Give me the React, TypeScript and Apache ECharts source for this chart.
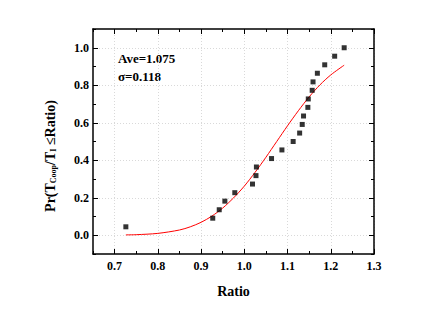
import React, { useEffect, useRef } from "react";
import * as echarts from "echarts";

const ratioX = [0.726, 0.927, 0.942, 0.955, 0.978, 1.019, 1.027, 1.028, 1.063, 1.087, 1.113, 1.128, 1.134, 1.137, 1.147, 1.148, 1.157, 1.159, 1.169, 1.186, 1.209, 1.231];
const probY = [0.045, 0.091, 0.136, 0.182, 0.227, 0.273, 0.318, 0.364, 0.409, 0.455, 0.5, 0.545, 0.591, 0.636, 0.682, 0.727, 0.773, 0.818, 0.864, 0.909, 0.955, 1.0];

const curveX = [0.726, 0.75, 0.8, 0.85, 0.875, 0.9, 0.925, 0.95, 0.975, 1.0, 1.025, 1.05, 1.075, 1.1, 1.125, 1.15, 1.175, 1.2, 1.231];
const curveY = [0.002, 0.003, 0.01, 0.028, 0.045, 0.069, 0.102, 0.145, 0.199, 0.262, 0.336, 0.416, 0.5, 0.584, 0.664, 0.738, 0.802, 0.855, 0.907];

const xMajor = [0.7, 0.8, 0.9, 1.0, 1.1, 1.2, 1.3];
const xMinor = [0.65, 0.75, 0.85, 0.95, 1.05, 1.15, 1.25];
const yMajor = [0.0, 0.2, 0.4, 0.6, 0.8, 1.0];
const yMinor = [-0.1, 0.1, 0.3, 0.5, 0.7, 0.9, 1.1];

const statLines = ["Ave=1.075", "σ=0.118"];

const FONT = "Liberation Serif";

export default function App() {
  const ref = useRef<HTMLDivElement>(null);
  useEffect(() => {
    if (!ref.current) return;
    const chart = echarts.init(ref.current, null, { renderer: "svg" });
    const lbl = { fontFamily: FONT, fontWeight: "bold" as const, fontSize: 12, color: "#000" };
    const mkX = (pos: string, ticks: number[], len: number, main: boolean, labels: boolean) => ({
      type: "value",
      position: pos,
      min: 0.65,
      max: 1.3,
      interval: 0.05,
      name: main && pos === "bottom" ? "Ratio" : "",
      nameLocation: "middle",
      nameGap: 30,
      nameTextStyle: { fontFamily: FONT, fontWeight: "bold", fontSize: 14, color: "#000" },
      axisLine: { show: main, onZero: false, lineStyle: { color: "#000", width: 1.5 } },
      axisTick: { show: true, inside: true, length: len, customValues: ticks, lineStyle: { color: "#000", width: 1 } },
      axisLabel: labels
        ? { show: true, margin: 6, customValues: xMajor, formatter: (v: number) => v.toFixed(1), ...lbl }
        : { show: false },
      splitLine: main && pos === "bottom" ? { show: true, lineStyle: { color: "#d9d9d9", type: [1, 2], width: 1 } } : { show: false },
    });
    const mkY = (pos: string, ticks: number[], len: number, main: boolean, labels: boolean) => ({
      type: "value",
      position: pos,
      min: -0.1,
      max: 1.1,
      interval: 0.1,
      axisLine: { show: main, onZero: false, lineStyle: { color: "#000", width: 1.5 } },
      axisTick: { show: true, inside: true, length: len, customValues: ticks, lineStyle: { color: "#000", width: 1 } },
      axisLabel: labels
        ? { show: true, margin: 4, customValues: yMajor, formatter: (v: number) => v.toFixed(1), ...lbl }
        : { show: false },
      splitLine: main && pos === "left" ? { show: true, lineStyle: { color: "#d9d9d9", type: [1, 2], width: 1 } } : { show: false },
    });
    chart.setOption({
      animation: false,
      textStyle: { fontFamily: FONT },
      grid: { left: 93, top: 29, width: 281, height: 225, containLabel: false },
      xAxis: [
        mkX("bottom", xMajor, 5, true, true),
        mkX("bottom", xMinor, 3, false, false),
        mkX("top", xMajor, 5, true, false),
        mkX("top", xMinor, 3, false, false),
      ],
      yAxis: [
        mkY("left", yMajor, 5, true, true),
        mkY("left", yMinor, 3, false, false),
        mkY("right", yMajor, 5, true, false),
        mkY("right", yMinor, 3, false, false),
      ],
      series: [
        {
          type: "line",
          xAxisIndex: 0,
          yAxisIndex: 0,
          data: curveX.map((x, i) => [x, curveY[i]]),
          smooth: 0.3,
          showSymbol: false,
          symbol: "none",
          lineStyle: { color: "#ff0000", width: 1 },
          z: 3,
        },
        {
          type: "scatter",
          xAxisIndex: 0,
          yAxisIndex: 0,
          data: ratioX.map((x, i) => [x, probY[i]]),
          symbol: "rect",
          symbolSize: 5,
          itemStyle: { color: "#000" },
          z: 4,
        },
      ],
      graphic: [
        {
          type: "text",
          left: 118,
          top: 52,
          style: { text: statLines[0], fontFamily: FONT, fontWeight: "bold", fontSize: 13, fill: "#000" },
        },
        {
          type: "text",
          left: 118,
          top: 70,
          style: { text: statLines[1], fontFamily: FONT, fontWeight: "bold", fontSize: 13, fill: "#000" },
        },
        {
          type: "text",
          x: 50,
          y: 156,
          rotation: Math.PI / 2,
          style: {
            text: "{a|Pr(T}{s|Coop}{a|/T}{s|I}{a| ≤Ratio)}",
            align: "center",
            verticalAlign: "middle",
            rich: {
              a: { fontFamily: FONT, fontWeight: "bold", fontSize: 14, fill: "#000", lineHeight: 16 },
              s: { fontFamily: FONT, fontWeight: "bold", fontSize: 8, fill: "#000", padding: [7, 0, 0, 0], lineHeight: 16 },
            },
          },
        },
      ],
    });
    return () => chart.dispose();
  }, []);
  return <div ref={ref} style={{ position: "absolute", left: 0, top: 0, width: 423, height: 327 }} />;
}
